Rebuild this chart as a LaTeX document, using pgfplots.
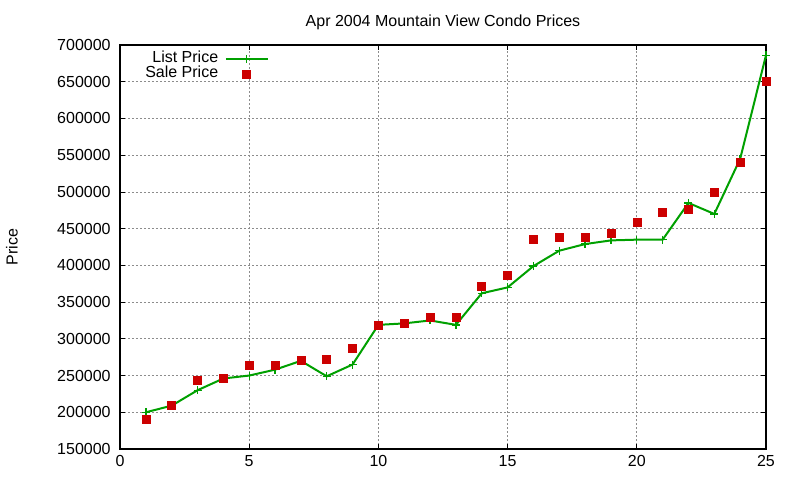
\documentclass[border=0pt]{standalone}
\usepackage{fontspec}
\setmainfont{Liberation Sans}
\usepackage{pgfplots}
\pgfplotsset{compat=1.18}
\definecolor{lgreen}{RGB}{0,160,0}
\definecolor{sred}{RGB}{204,0,0}
\pgfplotsset{
  lineleg/.style={legend image code/.code={\draw[##1, mark repeat=2, mark phase=2] plot coordinates {(0cm,0cm) (0.55cm,0cm) (1.1cm,0cm)};}},
}
\begin{document}
\begin{tikzpicture}[font=\fontsize{12}{14.4}\selectfont]
\begin{axis}[
  at={(0,0)}, anchor=south west,
  scale only axis, width=484.5pt, height=303pt,
  xmin=0, xmax=25, ymin=150000, ymax=700000,
  xtick={0,5,...,25},
  ytick={150000,200000,...,700000},
  scaled y ticks=false,
  /pgf/number format/.cd, fixed, 1000 sep={}, assume math mode=true, /pgfplots/.cd,
  tick align=inside, major tick length=4pt,
  tick style={black, line width=0.6pt},
  axis line style={line width=0.8pt},
  grid=major,
  major grid style={black!45, dash pattern=on 1.5pt off 1.5pt, line width=0.6pt},
  xticklabel style={yshift=-1.5pt},
  yticklabel style={xshift=-3.5pt},
  title={Apr 2004 Mountain View Condo Prices},
  title style={at={(axis description cs:0.5,1.0371)}, anchor=center},
  ylabel={Price},
  ylabel style={at={(axis description cs:-0.1672,0.5)}, anchor=center},
  clip=false,
  legend cell align=right,
  legend plot pos=right,
  legend style={at={(axis description cs:0.0346,0.9827)}, anchor=north west, draw=none, fill=none,
    inner xsep=0pt, inner ysep=0pt, row sep=1.5pt,
    nodes={inner xsep=2pt, inner ysep=0pt, text height=0.75em, text depth=0.25em},
    /tikz/every odd column/.append style={column sep=3pt}},
]
\addplot[color=lgreen, line width=1.5pt, mark=+, mark size=3pt, mark options={line width=1pt}, lineleg]
  coordinates {
  (1,200000) (2,209000) (3,230000) (4,246000) (5,250000) (6,258000) (7,270000) (8,249000)
  (9,265000) (10,319000) (11,321000) (12,325000) (13,319000) (14,362000) (15,370000)
  (16,399000) (17,420000) (18,429000) (19,434000) (20,435000) (21,435000) (22,485000)
  (23,470000) (24,545000) (25,686000)};
\addlegendentry{List Price}
\addplot[only marks, color=sred, mark=square*, mark size=3pt, lineleg]
  coordinates {
  (1,191000) (2,209000) (3,244000) (4,246000) (5,264000) (6,264000) (7,271000) (8,272000)
  (9,287000) (10,319000) (11,321000) (12,330000) (13,330000) (14,371000) (15,386000)
  (16,435000) (17,438000) (18,438000) (19,444000) (20,458000) (21,472000) (22,477000)
  (23,500000) (24,540000) (25,650000)};
\addlegendentry{Sale Price}
\end{axis}
\path (-90pt,-23.25pt) rectangle (510pt,336.75pt);
\end{tikzpicture}
\end{document}
